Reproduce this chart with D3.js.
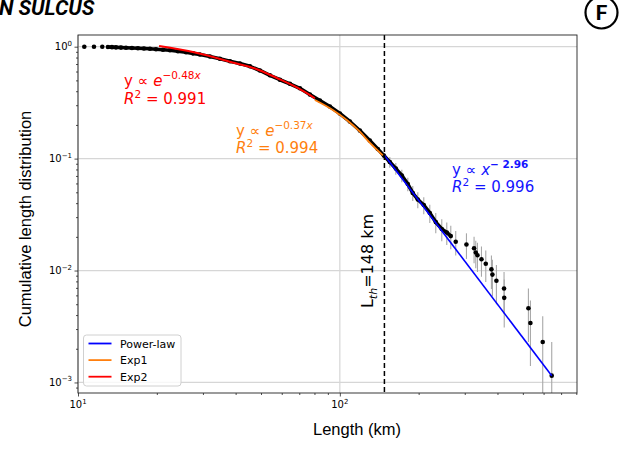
<!DOCTYPE html>
<html>
<head>
<meta charset="utf-8">
<script src="https://cdn.jsdelivr.net/npm/d3@7"></script>
<style>
body { margin: 0; background: #fff; }
svg { display: block; }
</style>
</head>
<body>
<div id="chart"></div>
<script>
// empirical cumulative distribution, dense part (length in km)
const denseLength = [10.57, 11.51, 12.38, 13.01, 13.48, 13.96, 14.59, 15.25, 16.07, 16.94,
    17.86, 18.83, 19.85, 21.11, 22.44, 24.07, 25.84, 27.47, 29.22, 31.91,
    34.83, 38.04, 41.53, 45.35, 49.52, 54.07, 59.03, 64.46, 70.37, 76.83,
    83.89, 91.59, 100.0, 109.2, 119.2, 130.1, 139.6, 147.2, 155.2, 163.6,
    172.5, 181.8, 189.9, 198.5, 209.2, 220.6, 232.5, 245.1, 256.1, 265.3]
const denseCdf = [1.0, 0.999, 0.998, 0.994, 0.991, 0.987, 0.982, 0.978, 0.974, 0.968,
    0.963, 0.958, 0.950, 0.940, 0.929, 0.912, 0.893, 0.872, 0.852, 0.817,
    0.780, 0.742, 0.708, 0.668, 0.613, 0.555, 0.507, 0.466, 0.425, 0.374,
    0.331, 0.292, 0.253, 0.2146, 0.1783, 0.1451, 0.1218, 0.1066, 0.0932, 0.0815,
    0.0706, 0.0593, 0.0493, 0.0431, 0.0385, 0.0327, 0.0271, 0.0235, 0.0219, 0.0203]
const denseErr = [null, null, null, null, null, null, null, null, null, null,
    null, null, null, null, null, null, null, null, null, null,
    null, null, null, null, null, null, null, null, null, null,
    null, null, null, null, null, null, null, null, 0.0104, 0.0097,
    0.0090, 0.0082, 0.0075, 0.0070, 0.0066, 0.0061, 0.0056, 0.0052, 0.0050, 0.0048]

// sparse tail with error bars
const tailLength = [277.1, 304.5, 325.6, 330.5, 335.5, 347.5, 360.9, 379.3, 382.6, 396.3,
    423.8, 424.5, 525.1, 534.5, 595.5, 644.6]
const tailCdf = [0.0181, 0.0171, 0.0158, 0.0145, 0.0137, 0.0126, 0.0115, 0.01025, 0.0092, 0.0081,
    0.0069, 0.0057, 0.0046, 0.0034, 0.0023, 0.00115]
const tailErr = [0.0045, 0.0044, 0.0042, 0.0040, 0.0040, 0.0038, 0.0036, 0.0034, 0.0033, 0.0031,
    0.0028, 0.0026, 0.0023, 0.0020, 0.0016, 0.00115]

// fitted curves
const exp2Length = [20.4, 28.0, 39.7, 47.4, 57.5, 68.5, 80.3]
const exp2Cdf = [1.015, 0.888, 0.715, 0.639, 0.525, 0.432, 0.346]
const exp1Length = [80.3, 94.0, 106.3, 119.2, 130.1, 146.0]
const exp1Cdf = [0.334, 0.272, 0.221, 0.174, 0.139, 0.107]
const powerLength = [148, 644.6]
const powerCdf = [0.107, 0.00115]

const threshold = 148
const xTicks = [10, 100]
const xTickExp = ['1', '2']
const yTicks = [1, 0.1, 0.01, 0.001]
const yTickExp = ['0', '\u22121', '\u22122', '\u22123']

const legendNames = ['Power-law', 'Exp1', 'Exp2']
const legendColors = ['#0000ff', '#ff7f0e', '#ff0000']

const createChart = () => {
//variables
    const width = 620
    const height = 451
    const left = 78, right = 577, top = 35, bottom = 393
    const x = d3.scaleLog().domain([10, 805]).range([left, right])
    const y = d3.scaleLog().domain([0.000805, 1.272]).range([bottom, top])

    const svg = d3.select('#chart')
        .append('svg')
        .attr('width', width)
        .attr('height', height)
        .style('font-family', 'DejaVu Sans')

    svg.append('clipPath')
        .attr('id', 'plot-clip')
        .append('rect')
        .attr('x', left).attr('y', top)
        .attr('width', right - left).attr('height', bottom - top)

//grid
    const grid = svg.append('g').attr('stroke', '#d6d6d6').attr('stroke-width', 1.2)
    grid.selectAll('.gx').data(xTicks).enter().append('line')
        .attr('x1', (d) => x(d)).attr('x2', (d) => x(d))
        .attr('y1', top).attr('y2', bottom)
    grid.selectAll('.gy').data(yTicks).enter().append('line')
        .attr('x1', left).attr('x2', right)
        .attr('y1', (d) => y(d)).attr('y2', (d) => y(d))

//data
    const plot = svg.append('g').attr('clip-path', 'url(#plot-clip)')
    const dense = denseLength.map((l, i) => ({ l: l, c: denseCdf[i], e: denseErr[i] }))
    const tail = tailLength.map((l, i) => ({ l: l, c: tailCdf[i], e: tailErr[i] }))
    const bars = dense.filter((d) => d.e !== null).concat(tail)
    const yMin = y.domain()[0] * 0.5

    plot.append('g')
        .attr('stroke', '#a8a8a8')
        .attr('stroke-width', 1.1)
        .selectAll('line')
        .data(bars)
        .enter()
        .append('line')
        .attr('x1', (d) => x(d.l)).attr('x2', (d) => x(d.l))
        .attr('y1', (d) => y(d.c + d.e))
        .attr('y2', (d) => y(Math.max(d.c - d.e, yMin)))

    const line = d3.line().x((d) => x(d.l)).y((d) => y(d.c))
    plot.append('path')
        .datum(dense.slice(3))
        .attr('d', line)
        .attr('fill', 'none')
        .attr('stroke', '#000')
        .attr('stroke-width', 3.6)
        .attr('stroke-linejoin', 'round')

    plot.append('g')
        .selectAll('circle')
        .data(dense.concat(tail))
        .enter()
        .append('circle')
        .attr('cx', (d) => x(d.l))
        .attr('cy', (d) => y(d.c))
        .attr('r', 2.3)
        .attr('fill', '#000')

//fits
    const fits = [
        { len: exp2Length, cdf: exp2Cdf, color: legendColors[2], w: 2 },
        { len: exp1Length, cdf: exp1Cdf, color: legendColors[1], w: 1.8 },
        { len: powerLength, cdf: powerCdf, color: legendColors[0], w: 1.6 }
    ]
    fits.forEach((f) => {
        plot.append('path')
            .datum(f.len.map((l, i) => ({ l: l, c: f.cdf[i] })))
            .attr('d', d3.line().curve(d3.curveMonotoneX).x((d) => x(d.l)).y((d) => y(d.c)))
            .attr('fill', 'none')
            .attr('stroke', f.color)
            .attr('stroke-width', f.w)
    })

    svg.append('line')
        .attr('x1', x(threshold)).attr('x2', x(threshold))
        .attr('y1', top).attr('y2', bottom)
        .attr('stroke', '#000')
        .attr('stroke-width', 1.5)
        .attr('stroke-dasharray', '5,3')

//axes
    const xMinor = x.ticks().filter((d) => !xTicks.includes(d))
    const yMinor = y.ticks().filter((d) => !yTicks.some((t) => Math.abs(t - d) < t * 1e-6))
    const xAxis = d3.axisBottom(x).tickValues(xTicks).tickSize(3.5).tickFormat('')
    const yAxis = d3.axisLeft(y).tickValues(yTicks).tickSize(3.5).tickFormat('')
    const gx = svg.append('g').attr('transform', `translate(0,${bottom})`).call(xAxis)
    const gy = svg.append('g').attr('transform', `translate(${left},0)`).call(yAxis)
    svg.append('g').attr('transform', `translate(0,${bottom})`)
        .call(d3.axisBottom(x).tickValues(xMinor).tickSize(2).tickFormat(''))
    svg.append('g').attr('transform', `translate(${left},0)`)
        .call(d3.axisLeft(y).tickValues(yMinor).tickSize(2).tickFormat(''))
    svg.selectAll('.domain').remove()
    svg.selectAll('.tick line').attr('stroke', '#222').attr('stroke-width', 0.8)

    xTicks.forEach((t, i) => {
        const tx = svg.append('text')
            .attr('x', x(t)).attr('y', 408)
            .attr('text-anchor', 'middle')
            .attr('font-size', 10)
        tx.append('tspan').text('10')
        tx.append('tspan').attr('font-size', 7).attr('dy', -4.5).text(xTickExp[i])
    })
    yTicks.forEach((t, i) => {
        const ty = svg.append('text')
            .attr('x', 72).attr('y', y(t) + 3.5)
            .attr('text-anchor', 'end')
            .attr('font-size', 10)
        ty.append('tspan').text('10')
        ty.append('tspan').attr('font-size', 7).attr('dy', -4.5).text(yTickExp[i])
    })

    svg.append('rect')
        .attr('x', left).attr('y', top)
        .attr('width', right - left).attr('height', bottom - top)
        .attr('fill', 'none')
        .attr('stroke', '#222')
        .attr('stroke-width', 0.9)

    svg.append('text')
        .attr('x', 357).attr('y', 435)
        .attr('text-anchor', 'middle')
        .attr('font-family', 'Liberation Sans')
        .attr('font-size', 16.5)
        .text('Length (km)')
    svg.append('text')
        .attr('transform', 'translate(31,219) rotate(-90)')
        .attr('text-anchor', 'middle')
        .attr('font-family', 'Liberation Sans')
        .attr('font-size', 16.5)
        .text('Cumulative length distribution')

//threshold label
    const lth = svg.append('text')
        .attr('transform', 'translate(373,261) rotate(-90)')
        .attr('text-anchor', 'middle')
        .attr('font-size', 16)
    lth.append('tspan').text('L')
    lth.append('tspan').attr('font-size', 11).attr('font-style', 'italic').attr('dy', 3.5).text('th')
    lth.append('tspan').attr('dy', -3.5).text('=148 km')

//fit labels
    const mathLabel = (px, py, color, base, baseItalic, sup, supBold) => {
        const t = svg.append('text')
            .attr('x', px).attr('y', py)
            .attr('fill', color)
            .attr('font-size', 15)
        t.append('tspan').text(base)
        t.append('tspan').attr('font-style', 'italic').text(baseItalic)
        const s = t.append('tspan').attr('font-size', 10.5).attr('dy', -7)
        if (supBold) s.attr('font-weight', 'bold')
        s.append('tspan').text(sup)
        return t
    }
    const r2Label = (px, py, color, value) => {
        const t = svg.append('text')
            .attr('x', px).attr('y', py)
            .attr('fill', color)
            .attr('font-size', 15)
        t.append('tspan').attr('font-style', 'italic').text('R')
        t.append('tspan').attr('font-size', 10.5).attr('dy', -6.5).text('2')
        t.append('tspan').attr('dy', 6.5).text(' = ' + value)
    }
    const l1 = mathLabel(124, 86, legendColors[2], 'y \u221d ', 'e', '\u22120.48', false)
    l1.select('tspan:last-child').append('tspan').attr('font-style', 'italic').text('x')
    r2Label(124, 104, legendColors[2], '0.991')
    const l2 = mathLabel(236, 136, legendColors[1], 'y \u221d ', 'e', '\u22120.37', false)
    l2.select('tspan:last-child').append('tspan').attr('font-style', 'italic').text('x')
    r2Label(236, 153, legendColors[1], '0.994')
    mathLabel(452, 175, '#1414ff', 'y \u221d ', 'x', '\u2212 2.96', true)
    r2Label(452, 192, '#1414ff', '0.996')

//legend
    const legend = svg.append('g')
    legend.append('rect')
        .attr('x', 83.5).attr('y', 335)
        .attr('width', 97.5).attr('height', 51)
        .attr('rx', 3)
        .attr('fill', '#fff').attr('fill-opacity', 0.8)
        .attr('stroke', '#d0d0d0')
    legendNames.forEach((name, i) => {
        const ly = 343.5 + i * 16.6
        legend.append('line')
            .attr('x1', 88.5).attr('x2', 111.5)
            .attr('y1', ly).attr('y2', ly)
            .attr('stroke', legendColors[i])
            .attr('stroke-width', 1.8)
        legend.append('text')
            .attr('x', 120).attr('y', ly + 4)
            .attr('font-size', 11)
            .text(name)
    })

//panel title and letter
    svg.append('text')
        .attr('x', -1).attr('y', 15)
        .attr('font-family', 'Roboto')
        .attr('font-weight', 'bold')
        .attr('font-style', 'italic')
        .attr('font-size', 21)
        .text('N SULCUS')
    svg.append('circle')
        .attr('cx', 601.5).attr('cy', 12.5).attr('r', 16)
        .attr('fill', 'none').attr('stroke', '#000').attr('stroke-width', 2.2)
    svg.append('text')
        .attr('x', 601.5).attr('y', 20)
        .attr('text-anchor', 'middle')
        .attr('font-family', 'Roboto')
        .attr('font-weight', 'bold')
        .attr('font-size', 21)
        .text('F')
}

createChart()
</script>
</body>
</html>
